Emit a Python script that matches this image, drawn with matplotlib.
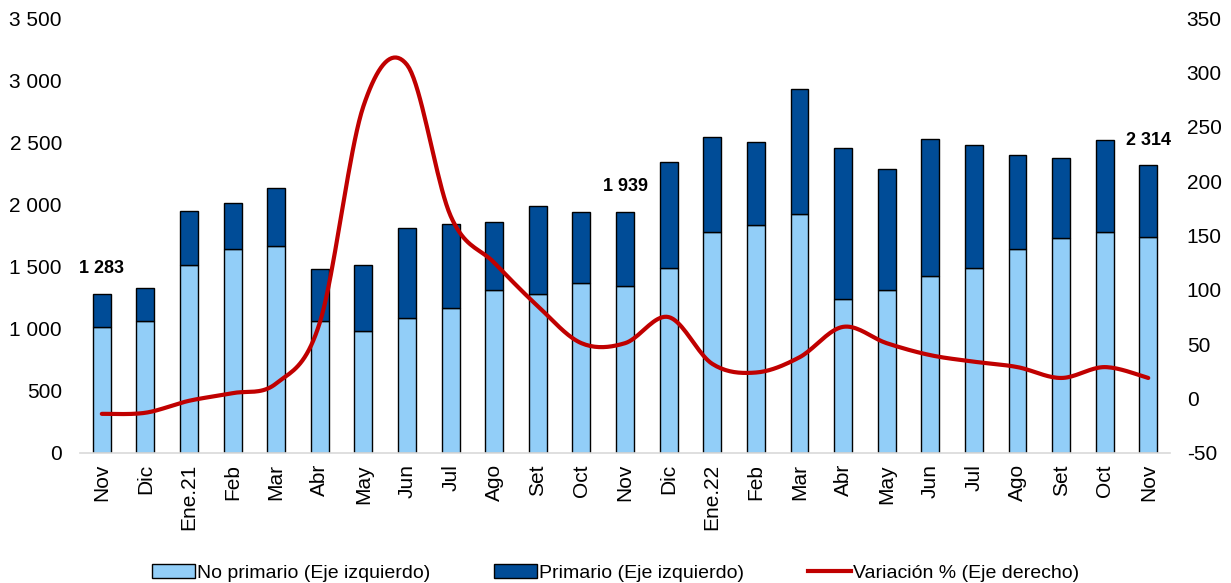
import numpy as np
import matplotlib.pyplot as plt
from matplotlib.patches import Patch
from matplotlib.lines import Line2D

plt.rcParams['font.family'] = ['Liberation Sans', 'DejaVu Sans']
plt.rcParams['axes.unicode_minus'] = False

# ---------------------------------------------------------------------------
# Data
# ---------------------------------------------------------------------------
months = ['Nov', 'Dic', 'Ene.21', 'Feb', 'Mar', 'Abr', 'May', 'Jun', 'Jul',
          'Ago', 'Set', 'Oct', 'Nov', 'Dic', 'Ene.22', 'Feb', 'Mar', 'Abr',
          'May', 'Jun', 'Jul', 'Ago', 'Set', 'Oct', 'Nov']
total = [1283, 1327, 1947, 2011, 2132, 1480, 1512, 1810, 1842, 1858, 1987,
         1939, 1939, 2341, 2542, 2502, 2928, 2454, 2285, 2526, 2478, 2397,
         2373, 2518, 2314]
no_primario = [1010, 1062, 1512, 1641, 1665, 1062, 981, 1086, 1166, 1311,
               1279, 1368, 1343, 1488, 1778, 1834, 1923, 1239, 1311, 1424,
               1488, 1641, 1730, 1778, 1738]
variacion = [-14, -13, -2, 5, 14, 70, 269, 307, 168, 125, 85, 51, 51, 75,
             32, 24, 38, 66, 51, 40, 34, 29, 19, 29, 19]
labelled = {0: '1 283', 12: '1 939', 24: '2 314'}

primario = [t - n for t, n in zip(total, no_primario)]

c_light = '#92CEF8'
c_dark = '#004C97'
c_line = '#C00000'


def smooth(x, y, steps=20):
    """Catmull-Rom style smoothing like Excel's smoothed line."""
    x = np.asarray(x, float)
    y = np.asarray(y, float)
    px = np.concatenate([[x[0]], x, [x[-1]]])
    py = np.concatenate([[y[0]], y, [y[-1]]])
    xs, ys = [], []
    t = np.linspace(0, 1, steps, endpoint=False)
    for i in range(1, len(px) - 2):
        p0, p1, p2, p3 = [np.array([px[j], py[j]]) for j in range(i - 1, i + 3)]
        c1 = p1 + (p2 - p0) / 6
        c2 = p2 - (p3 - p1) / 6
        pts = ((1 - t) ** 3)[:, None] * p1 + (3 * (1 - t) ** 2 * t)[:, None] * c1 \
            + (3 * (1 - t) * t ** 2)[:, None] * c2 + (t ** 3)[:, None] * p2
        xs.extend(pts[:, 0])
        ys.extend(pts[:, 1])
    xs.append(x[-1])
    ys.append(y[-1])
    return np.array(xs), np.array(ys)


fig = plt.figure(figsize=(12.31, 5.83), dpi=100)
ax = fig.add_axes([0.065, 0.223, 0.8855, 0.746])
x = np.arange(len(months))
w = 0.41

ax.bar(x, no_primario, w, color=c_light, edgecolor='black', linewidth=1.0, zorder=2)
ax.bar(x, primario, w, bottom=no_primario, color=c_dark, edgecolor='black',
       linewidth=1.0, zorder=2)

# data labels centred above selected bars
for i, txt in labelled.items():
    ax.annotate(txt, (x[i], total[i]), xytext=(0, 12),
                textcoords='offset points', ha='center', va='bottom',
                fontsize=13, fontweight='bold')

ax.set_xlim(-0.5, len(months) - 0.5)
ax.set_ylim(0, 3500)
ax.set_yticks(np.arange(0, 3501, 500))
ax.set_yticklabels([f'{v:,}'.replace(',', ' ') for v in range(0, 3501, 500)])
ax.set_xticks(x)
ax.set_xticklabels(months, rotation=90)
ax.tick_params(axis='both', length=0, labelsize=15)
ax.tick_params(axis='y', pad=13)
ax.tick_params(axis='x', pad=8)
for s in ['top', 'right', 'left']:
    ax.spines[s].set_visible(False)
ax.spines['bottom'].set_color('#D9D9D9')
ax.spines['bottom'].set_linewidth(1.2)

ax2 = ax.twinx()
sx, sy = smooth(x, variacion)
ax2.plot(sx, sy, color=c_line, linewidth=3.0, solid_capstyle='round', zorder=3)
ax2.set_ylim(-50, 350)
ax2.set_yticks(np.arange(-50, 351, 50))
ax2.tick_params(axis='y', length=0, labelsize=15, pad=12)
for s in ['top', 'right', 'left', 'bottom']:
    ax2.spines[s].set_visible(False)

handles = [Patch(facecolor=c_light, edgecolor='black', label='No primario (Eje izquierdo)'),
           Patch(facecolor=c_dark, edgecolor='black', label='Primario (Eje izquierdo)'),
           Line2D([0], [0], color=c_line, linewidth=3, label='Variación % (Eje derecho)')]
fig.legend(handles=handles, loc='lower center', ncol=3, frameon=False,
           fontsize=14, bbox_to_anchor=(0.5, -0.028), handlelength=2.2,
           handletextpad=0.1, columnspacing=3.3)

fig.savefig('out.png', dpi=100)
